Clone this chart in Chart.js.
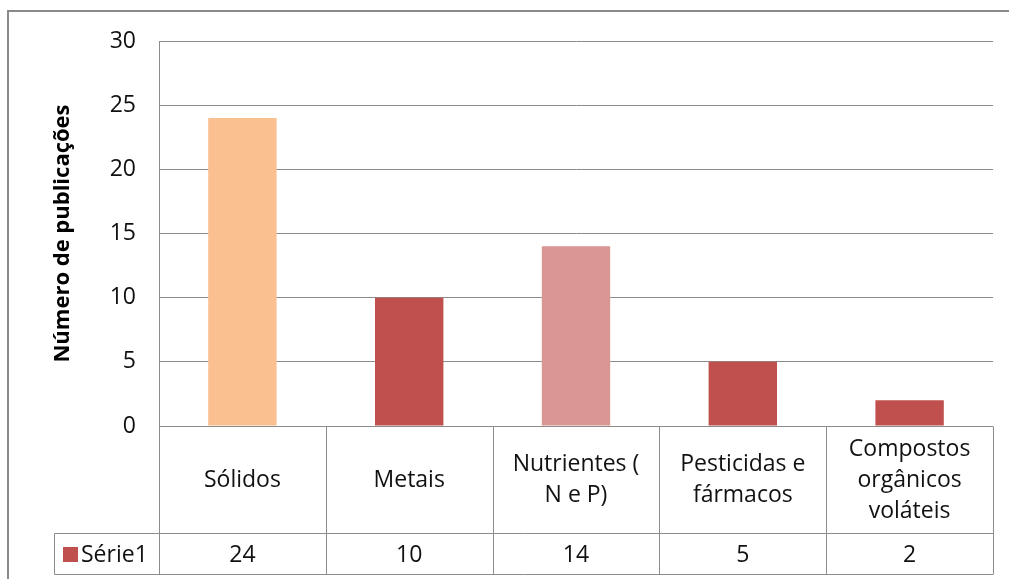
<!DOCTYPE html>
<html>
<head>
<meta charset="utf-8">
<script src="https://cdn.jsdelivr.net/npm/chart.js@4/dist/chart.umd.min.js"></script>
<style>
  html, body { margin: 0; padding: 0; background: #fff; }
  #wrap { width: 1009px; height: 579px; position: relative; }
</style>
</head>
<body>
<div id="wrap"><canvas id="grafico"></canvas></div>
<script>
// categorias (quebradas em linhas como na tabela de dados)
const categorias = [
  ['Sólidos'],
  ['Metais'],
  ['Nutrientes (', 'N e P)'],
  ['Pesticidas e', 'fármacos'],
  ['Compostos', 'orgânicos', 'voláteis']
];
const valores = [24, 10, 14, 5, 2];
const coresBarras = ['#FAC090', '#C0504D', '#D99694', '#C0504D', '#C0504D'];
const nomeSerie = 'Série1';
const corSerie = '#C0504D';
const tituloY = 'Número de publicações';
const eixoY = { min: 0, max: 30, passo: 5 };

const fonte = "'Open Sans', 'DejaVu Sans', sans-serif";
const cinza = '#8c8c8c';
const tamTexto = 23;

// moldura e tabela de dados abaixo do gráfico
const tabelaDados = {
  id: 'tabelaDados',
  afterDraw(chart) {
    const ctx = chart.ctx;
    const area = chart.chartArea;
    const x = chart.scales.x;
    const n = valores.length;
    const larg = (area.right - area.left) / n;
    const topo = Math.round(area.bottom) + 0.5;
    const meio = topo + 107;
    const base = meio + 41;
    const esqLegenda = 54.5;

    ctx.save();
    ctx.strokeStyle = cinza;
    ctx.lineWidth = 1;
    ctx.beginPath();
    // linhas horizontais
    ctx.moveTo(area.left, topo); ctx.lineTo(area.right, topo);
    ctx.moveTo(esqLegenda, meio); ctx.lineTo(area.right, meio);
    ctx.moveTo(esqLegenda, base); ctx.lineTo(area.right, base);
    // linhas verticais
    for (let i = 0; i <= n; i++) {
      const px = Math.round(area.left + i * larg) + 0.5;
      ctx.moveTo(px, topo); ctx.lineTo(px, base);
    }
    ctx.moveTo(esqLegenda, meio); ctx.lineTo(esqLegenda, base);
    ctx.stroke();

    ctx.fillStyle = '#111';
    ctx.font = tamTexto + 'px ' + fonte;
    ctx.textAlign = 'center';
    ctx.textBaseline = 'middle';
    const alturaLinha = 31;
    categorias.forEach((linhas, i) => {
      const cx = x.getPixelForValue(i);
      const cy = (topo + meio) / 2;
      const y0 = cy - (linhas.length - 1) * alturaLinha / 2;
      linhas.forEach((t, j) => ctx.fillText(t, cx, y0 + j * alturaLinha));
      ctx.fillText(String(valores[i]), cx, (meio + base) / 2 + 1);
    });

    // chave da legenda
    const cyVal = (meio + base) / 2;
    ctx.fillStyle = corSerie;
    ctx.fillRect(63, cyVal - 7, 15, 15);
    ctx.fillStyle = '#111';
    ctx.textAlign = 'left';
    ctx.fillText(nomeSerie, 81, cyVal + 1);

    // moldura da área do gráfico
    ctx.strokeStyle = '#8a8a8a';
    ctx.lineWidth = 2;
    ctx.beginPath();
    ctx.moveTo(8, 579); ctx.lineTo(8, 11); ctx.lineTo(1009, 11);
    ctx.stroke();
    ctx.restore();
  }
};

new Chart(document.getElementById('grafico'), {
  type: 'bar',
  data: {
    labels: categorias.map(c => c.join(' ')),
    datasets: [{
      label: nomeSerie,
      data: valores,
      backgroundColor: coresBarras,
      categoryPercentage: 1,
      barPercentage: 0.41
    }]
  },
  options: {
    responsive: true,
    maintainAspectRatio: false,
    animation: false,
    layout: { padding: { left: 50, right: 16, top: 41, bottom: 153 } },
    plugins: { legend: { display: false }, tooltip: { enabled: false } },
    scales: {
      x: { display: false },
      y: {
        min: eixoY.min,
        max: eixoY.max,
        ticks: {
          stepSize: eixoY.passo,
          padding: 23,
          color: '#111',
          font: { family: fonte, size: tamTexto }
        },
        grid: { color: cinza, drawTicks: false },
        border: { display: true, color: cinza },
        title: {
          display: true,
          text: tituloY,
          color: '#000',
          padding: 0,
          font: { family: fonte, size: 22, weight: 'bold' }
        },
        afterFit(scale) { scale.width = 109; }
      }
    }
  },
  plugins: [tabelaDados]
});
</script>
</body>
</html>
